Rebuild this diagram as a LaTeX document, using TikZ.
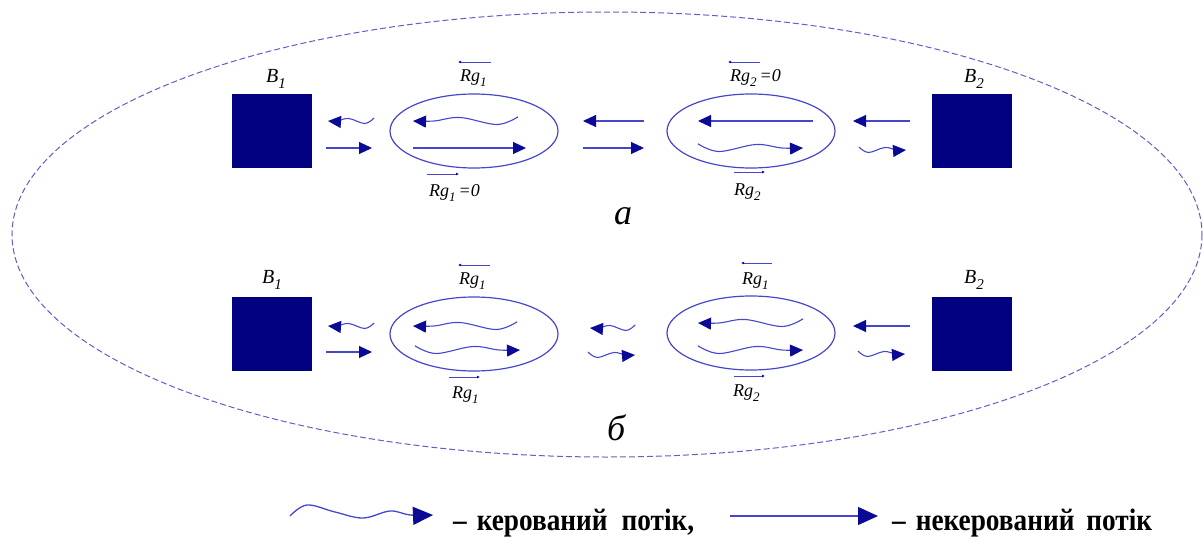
\documentclass[tikz,border=0pt]{standalone}
\usepackage{fontspec}
\setmainfont{Liberation Serif}
\newfontfamily\legfont[FakeStretch=0.88]{Liberation Serif}
\usetikzlibrary{arrows.meta,shapes.geometric,calc}
\definecolor{boxblue}{RGB}{0,0,128}
\definecolor{lineblue}{RGB}{70,70,205}
\definecolor{headblue}{RGB}{10,10,150}
\definecolor{dashblue}{RGB}{95,95,200}
\newcommand{\dsub}[2][13]{\raisebox{-0.3em}{\fontsize{#1}{#1}\selectfont #2}}
\tikzset{
  flow/.style={draw=lineblue, line width=1.1pt, -{Triangle[length=13pt,width=12pt,color=headblue]}},
  bigflow/.style={draw=lineblue, line width=1.3pt, -{Triangle[length=20pt,width=18pt,color=headblue]}},
  vecr/.style={draw=lineblue, line width=1pt, -{Latex[length=3pt,width=3pt,color=headblue]}},
  sys/.style={fill=boxblue, minimum width=80pt, minimum height=74pt, inner sep=0pt},
  reg/.style={ellipse, draw=lineblue, line width=1.2pt, minimum width=168pt, minimum height=74pt, inner sep=0pt},
  lab/.style={font=\fontsize{18}{20}\selectfont\itshape, inner sep=0pt, anchor=base west},
  blab/.style={font=\fontsize{20}{22}\selectfont\itshape, inner sep=0pt, anchor=base},
  biglab/.style={font=\fontsize{36}{38}\selectfont\itshape, inner sep=0pt, anchor=base west},
  legtext/.style={font=\legfont\bfseries\fontsize{31}{33}\selectfont, inner sep=0pt, anchor=base west},
}
% #2 tail x, #3 y, #4 tip x, #5 amplitude
\newcommand{\wavyflow}[5][flow]{%
  \draw[#1] plot[smooth, tension=0.6] coordinates {(#2,{#3-1.2*#5}) ({#2+0.2*(#4-#2)},{#3+#5}) ({#2+0.55*(#4-#2)},{#3-#5}) ({#2+0.8*(#4-#2)},#3) (#4,#3)};}
\begin{document}
\begin{tikzpicture}[x=1pt,y=-1pt]
\useasboundingbox (0,0) rectangle (1203,538);
% outer dashed ellipse
\draw[dashblue, line width=1pt, dash pattern=on 6pt off 3pt] (607,234.5) ellipse [x radius=595, y radius=222.5];

% ---------- row a ----------
\node[sys] (B1a) at (272,131) {};
\node[sys] (B2a) at (972,131) {};
\node[reg] (E1a) at (474,131) {};
\node[reg] (E2a) at (751,131) {};
\node[blab] (lB1a) at (276,82) {B\dsub[15]{1}};
\node[blab] (lB2a) at (974,82) {B\dsub[15]{2}};

\node[lab] (t1a) at (460,81) {Rg\dsub{1}};
\draw[vecr] (491,62) -- (458,62);
\node[lab] (t2a) at (429,196) {Rg\dsub{1}\,=0};
\draw[vecr] (427,174) -- (459,174);
\node[lab] (t3a) at (730,81) {Rg\dsub{2}\,=0};
\draw[vecr] (760,62) -- (728,62);
\node[lab] (t4a) at (734,195) {Rg\dsub{2}};
\draw[vecr] (734,172) -- (765,172);
\node[biglab] (la) at (614,224) {а};

\wavyflow{374}{121}{328}{2.5}
\draw[flow] (326,148) -- (372,148);
\wavyflow{518}{121}{413}{3.5}
\draw[flow] (413,148) -- (526,148);
\draw[flow] (644,121) -- (583,121);
\draw[flow] (583,148) -- (644,148);
\draw[flow] (813,121) -- (698,121);
\wavyflow{698}{148}{803}{3.5}
\draw[flow] (910,121) -- (853,121);
\wavyflow{859}{150}{906}{2.5}

% ---------- row b ----------
\node[sys] (B1b) at (272,334) {};
\node[sys] (B2b) at (972,334) {};
\node[reg] (E1b) at (474,334) {};
\node[reg] (E2b) at (751,333) {};
\node[blab] (lB1b) at (272,283) {B\dsub[15]{1}};
\node[blab] (lB2b) at (974,283) {B\dsub[15]{2}};

\node[lab] (t1b) at (459,284) {Rg\dsub{1}};
\draw[vecr] (490,265) -- (458,265);
\node[lab] (t2b) at (452,398) {Rg\dsub{1}};
\draw[vecr] (449,377) -- (480,377);
\node[lab] (t3b) at (742,284) {Rg\dsub{1}};
\draw[vecr] (772,263) -- (741,263);
\node[lab] (t4b) at (733,396) {Rg\dsub{2}};
\draw[vecr] (734,376) -- (765,376);
\node[biglab] (lb) at (607,440) {б};

\wavyflow{374}{326}{328}{2.5}
\draw[flow] (326,352) -- (372,352);
\wavyflow{517}{326}{413}{3.5}
\wavyflow{415}{350}{520}{3.5}
\wavyflow{635}{328}{590}{2.5}
\wavyflow{588}{355}{635}{2.5}
\wavyflow{803}{323}{698}{3.5}
\wavyflow{698}{350}{803}{3.5}
\draw[flow] (910,326) -- (853,326);
\wavyflow{858}{354}{905}{2.5}

% ---------- legend ----------
\draw[bigflow] plot[smooth, tension=0.6] coordinates {(290,516) (307,505) (335,512) (363,518) (390,511) (410,515) (433,515)};
\node[legtext] (leg1) at (453,530) {–\hspace{10pt}керований\hspace{14pt}потік,};
\draw[bigflow] (730,516) -- (878,516);
\node[legtext] (leg2) at (892,530) {–\hspace{10pt}некерований\hspace{12pt}потік};
\end{tikzpicture}
\end{document}
